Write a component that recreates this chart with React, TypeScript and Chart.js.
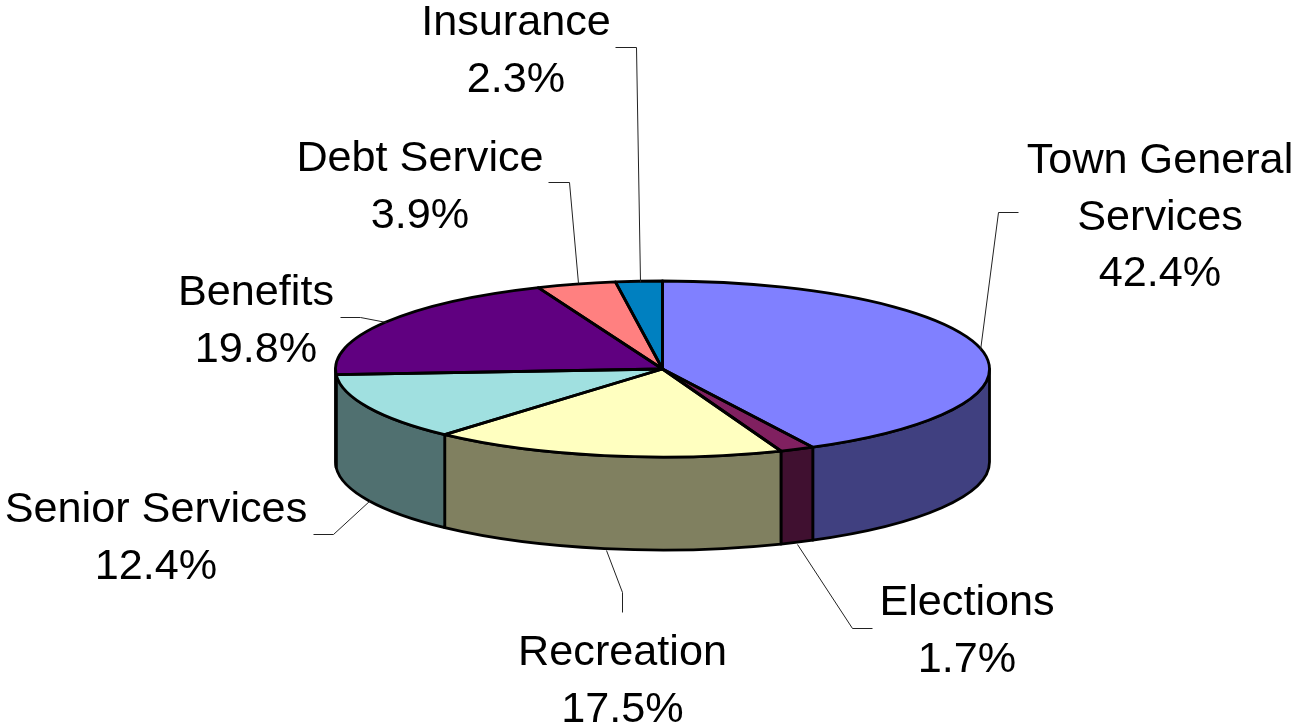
import React, { useEffect, useRef } from "react";
import { Chart, registerables } from "chart.js";

Chart.register(...registerables);

const categories = ["Town General Services", "Elections", "Recreation", "Senior Services", "Benefits", "Debt Service", "Insurance"];
const shares = [42.4, 1.7, 17.5, 12.4, 19.8, 3.9, 2.3];
const topColors = ["#8080FF", "#802060", "#FFFFC0", "#A0E0E0", "#600080", "#FF8080", "#0080C0"];
const wallColors = ["#404080", "#401030", "#808060", "#507070", "#300040", "#804040", "#004060"];

const W = 1295;
const H = 726;
const CX = 662.5;
const CY = 369;
const RX = 327;
const RY = 88;
const DEPTH = 93;
const SQUASH = RY / RX;

// Label placement: text centre, first baseline, words on the first line, and leader line.
const labelLayout = [
  { x: 1160, y: 173, wrap: 2, leader: [[1018, 212], [998, 212], [980, 350]] },
  { x: 967, y: 615, wrap: 0, leader: [[872, 628], [852, 628], [797, 544]] },
  { x: 622.5, y: 665, wrap: 0, leader: [[622, 612], [622, 592], [606, 550]] },
  { x: 156, y: 522, wrap: 0, leader: [[313, 534], [333, 534], [370, 500]] },
  { x: 256, y: 305, wrap: 0, leader: [[340, 317], [360, 317], [386, 322]] },
  { x: 420, y: 171, wrap: 0, leader: [[548, 182], [569, 182], [578, 283]] },
  { x: 516, y: 35, wrap: 0, leader: [[615, 47], [636, 47], [640, 282]] },
];

const pie3d = {
  id: "pie3d",
  beforeDatasetsDraw(chart: any) {
    const { ctx } = chart;
    const arcs = chart.getDatasetMeta(0).data;
    ctx.save();
    ctx.lineJoin = "round";
    arcs.forEach((arc: any, i: number) => {
      const a0 = Math.max(arc.startAngle, 0);
      const a1 = Math.min(arc.endAngle, Math.PI);
      if (a1 <= a0) return;
      const cx = arc.x;
      const cy = arc.y;
      ctx.beginPath();
      ctx.ellipse(cx, cy, RX, RY, 0, a0, a1);
      ctx.lineTo(cx + RX * Math.cos(a1), cy + RY * Math.sin(a1) + DEPTH);
      ctx.ellipse(cx, cy + DEPTH, RX, RY, 0, a1, a0, true);
      ctx.closePath();
      ctx.fillStyle = wallColors[i];
      ctx.fill();
      ctx.strokeStyle = "#000";
      ctx.lineWidth = 2.8;
      ctx.stroke();
    });
    ctx.restore();
    const c = arcs[0];
    ctx.save();
    ctx.translate(c.x, c.y);
    ctx.scale(1, SQUASH);
    ctx.translate(-c.x, -c.y);
  },
  afterDatasetsDraw(chart: any) {
    const { ctx } = chart;
    ctx.restore();
    const arcs = chart.getDatasetMeta(0).data;
    ctx.save();
    ctx.lineJoin = "round";
    arcs.forEach((arc: any) => {
      ctx.beginPath();
      ctx.moveTo(arc.x, arc.y);
      ctx.ellipse(arc.x, arc.y, RX, RY, 0, arc.startAngle, arc.endAngle);
      ctx.closePath();
      ctx.strokeStyle = "#000";
      ctx.lineWidth = 2.8;
      ctx.stroke();
    });
    // leader lines
    ctx.strokeStyle = "#222";
    ctx.lineWidth = 1;
    labelLayout.forEach((l) => {
      ctx.beginPath();
      l.leader.forEach(([x, y], k) => (k ? ctx.lineTo(x + 0.5, y + 0.5) : ctx.moveTo(x + 0.5, y + 0.5)));
      ctx.stroke();
    });
    // labels
    ctx.fillStyle = "#000";
    ctx.font = '43.2px "Liberation Sans", Arial, sans-serif';
    ctx.textAlign = "center";
    ctx.textBaseline = "alphabetic";
    categories.forEach((name, i) => {
      const l = labelLayout[i];
      const words = name.split(" ");
      const lines = l.wrap ? [words.slice(0, l.wrap).join(" "), words.slice(l.wrap).join(" ")] : [name];
      lines.push(shares[i].toFixed(1) + "%");
      lines.forEach((t, k) => ctx.fillText(t, l.x, l.y + k * 56.5));
    });
    ctx.restore();
  },
};

export default function App() {
  const ref = useRef<HTMLCanvasElement>(null);
  useEffect(() => {
    document.body.style.margin = "0";
    document.body.style.background = "#fff";
    const chart = new Chart(ref.current as HTMLCanvasElement, {
      type: "pie",
      data: {
        labels: categories,
        datasets: [{ data: shares, backgroundColor: topColors, borderWidth: 0 }],
      },
      options: {
        responsive: false,
        animation: false,
        devicePixelRatio: 1,
        radius: RX,
        layout: {
          padding: {
            left: Math.max(0, 2 * CX - W),
            right: Math.max(0, W - 2 * CX),
            top: Math.max(0, 2 * CY - H),
            bottom: Math.max(0, H - 2 * CY),
          },
        },
        plugins: { legend: { display: false }, tooltip: { enabled: false }, title: { display: false } },
      } as any,
      plugins: [pie3d as any],
    });
    return () => chart.destroy();
  }, []);
  return <canvas ref={ref} width={W} height={H} style={{ display: "block" }} />;
}
